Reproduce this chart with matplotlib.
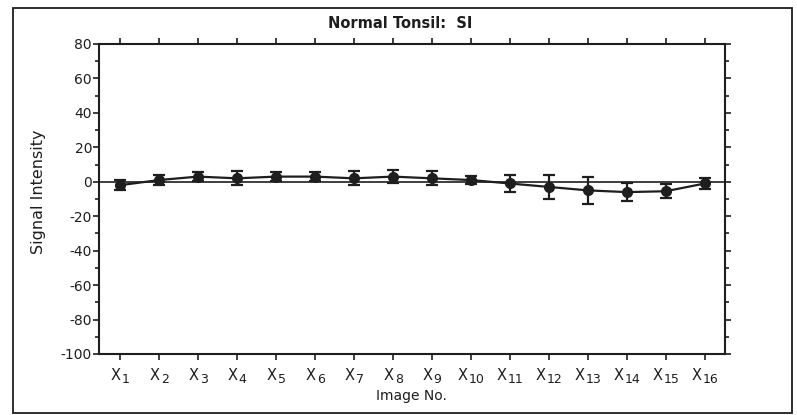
import numpy as np
import matplotlib.pyplot as plt
from matplotlib.patches import Rectangle
from matplotlib.ticker import MultipleLocator

plt.rcParams['font.family'] = ['DejaVu Sans']
plt.rcParams['axes.unicode_minus'] = False

# mean signal intensity and error per image
images = list(range(1, 17))
subs = [str(i) for i in images]
means = [-2, 1, 3, 2, 3, 3, 2, 3, 2, 1, -1, -3, -5, -6, -5.5, -1]
errs = [3, 3, 2.5, 4, 2.5, 2.5, 4, 4, 4, 2.5, 5, 7, 8, 5, 4, 3]

ink = '#1e1e1e'

fig = plt.figure(figsize=(7.97, 4.15), dpi=100)
ax = fig.add_axes([0.1242, 0.147, 0.7855, 0.747])

ax.axhline(0, color=ink, lw=1.2, zorder=1)
ax.errorbar(images, means, yerr=errs, color=ink, lw=1.6, marker='o', ms=7,
            capsize=4, capthick=1.6, elinewidth=1.6, zorder=3)

ax.set_xlim(0.46, 16.52)
ax.set_ylim(-100, 80)
ax.set_xticks(images)
ax.set_xticklabels([])
ax.yaxis.set_major_locator(MultipleLocator(20))
ax.yaxis.set_minor_locator(MultipleLocator(10))
ax.tick_params(axis='both', which='both', direction='out', color=ink, width=1.2,
               top=True, right=True, labelsize=10, labelcolor=ink)
ax.tick_params(which='major', length=4)
ax.tick_params(which='minor', length=3)
ax.tick_params(axis='y', pad=1)
for s in ax.spines.values():
    s.set_color(ink)
    s.set_linewidth(1.5)

# X with big subscript digits under each tick
wx, wd, gap = 10.0, 7.9, 1.5
for i, sub in zip(images, subs):
    start = -(wx + gap + wd * len(sub)) / 2
    ax.annotate('X', xy=(i, 0), xycoords=ax.get_xaxis_transform(),
                xytext=(start, -26), textcoords='offset pixels',
                ha='left', va='baseline', fontsize=10.5, color=ink)
    ax.annotate(sub, xy=(i, 0), xycoords=ax.get_xaxis_transform(),
                xytext=(start + wx + gap, -29), textcoords='offset pixels',
                ha='left', va='baseline', fontsize=9, color=ink)

fig.text(0.048, 0.537, 'Signal Intensity', rotation=90, ha='center', va='center',
         fontsize=11.5, color=ink)
fig.text(0.516, 0.046, 'Image No.', ha='center', va='center', fontsize=10, color=ink)
fig.text(0.502, 0.944, 'Normal Tonsil:  SI', ha='center', va='center',
         fontsize=10.5, fontweight='bold', color=ink)

# outer frame
fig.patches.append(Rectangle((0.016, 0.005), 0.978, 0.975, transform=fig.transFigure,
                             fill=False, edgecolor=ink, lw=1.3))

fig.savefig('out.png', dpi=100)
